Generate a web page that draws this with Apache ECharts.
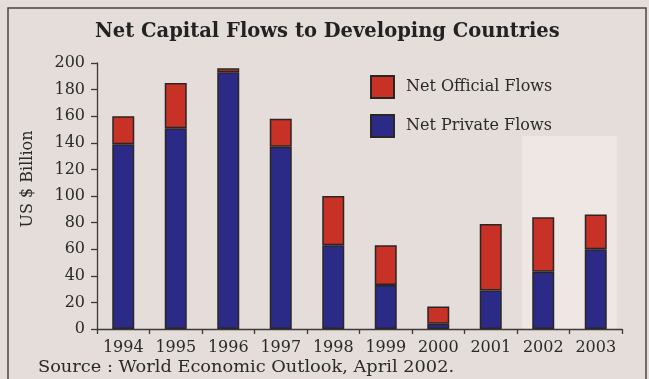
<!DOCTYPE html>
<html>
<head>
<meta charset="utf-8">
<script src="https://cdn.jsdelivr.net/npm/echarts@6/dist/echarts.min.js"></script>
<style>
  html, body { margin: 0; padding: 0; background: #e4ddd9; }
  #chart { width: 649px; height: 379px; }
</style>
</head>
<body>
<div id="chart"></div>
<script>
// Net capital flows to developing countries, US $ billion
const years = ['1994', '1995', '1996', '1997', '1998', '1999', '2000', '2001', '2002', '2003'];
const privateFlows = [139, 151, 193, 137, 63, 33, 4, 29, 43, 60];
const officialFlows = [21, 34, 3, 21, 37, 30, 13, 50, 41, 26];
const yTicks = { min: 0, max: 200, interval: 20 };
// projection years highlighted by a pale panel
const projectionYears = ['2002', '2003'];
const projectionTop = 145;

const FONT = 'DejaVu Serif';
const INK = '#2a2a2a';
const BORDER = '#2b2626';

const chart = echarts.init(document.getElementById('chart'), null, { renderer: 'canvas' });

const option = {
  backgroundColor: '#e4ddd9',
  animation: false,
  textStyle: { fontFamily: FONT, color: INK },
  title: {
    text: 'Net Capital Flows to Developing Countries',
    left: 90,
    top: 17,
    textStyle: { fontFamily: FONT, fontWeight: 'bold', fontSize: 19.5, color: '#222' }
  },
  legend: {
    orient: 'vertical',
    left: 370,
    top: 75,
    padding: 0,
    itemWidth: 23,
    itemHeight: 22,
    itemGap: 15,
    icon: 'rect',
    data: ['Net Official Flows', 'Net Private Flows'],
    textStyle: { fontFamily: FONT, fontSize: 16, color: INK, padding: [0, 0, 0, 7] }
  },
  grid: { left: 97, right: 27, top: 63, bottom: 50, containLabel: false },
  xAxis: {
    type: 'category',
    data: years,
    axisLine: { lineStyle: { color: '#3a3a3a', width: 1.3 } },
    axisTick: { show: true, interval: 0, length: 5, alignWithLabel: false, lineStyle: { color: '#3a3a3a', width: 1.3 } },
    axisLabel: { interval: 0, fontFamily: FONT, fontSize: 16, color: INK, margin: 11 }
  },
  yAxis: {
    type: 'value',
    min: yTicks.min,
    max: yTicks.max,
    interval: yTicks.interval,
    axisLine: { show: true, lineStyle: { color: '#3a3a3a', width: 1.3 } },
    axisTick: { show: true, length: 6, lineStyle: { color: '#3a3a3a', width: 1.3 } },
    splitLine: { show: false },
    axisLabel: { fontFamily: FONT, fontSize: 16, color: INK, margin: 12 }
  },
  series: [
    {
      name: 'Net Private Flows',
      type: 'bar',
      stack: 'flows',
      barWidth: 22,
      data: privateFlows,
      itemStyle: { color: '#2b2a87', borderColor: BORDER, borderWidth: 1.5 }
    },
    {
      name: 'Net Official Flows',
      type: 'bar',
      stack: 'flows',
      barWidth: 22,
      data: officialFlows,
      itemStyle: { color: '#c83126', borderColor: BORDER, borderWidth: 1.5 }
    }
  ],
  graphic: [
    {
      type: 'rect',
      shape: { x: 8, y: 8, width: 638, height: 420 },
      style: { fill: 'none', stroke: '#4a4646', lineWidth: 1.5 },
      z: 100
    },
    {
      type: 'text',
      x: 28,
      y: 179,
      rotation: Math.PI / 2,
      style: {
        text: 'US $ Billion',
        font: '16px "DejaVu Serif"',
        fill: INK,
        textAlign: 'center',
        textVerticalAlign: 'middle'
      }
    },
    {
      type: 'text',
      x: 38,
      y: 360,
      scaleX: 1.11,
      style: {
        text: 'Source : World Economic Outlook, April 2002.',
        font: '16px "DejaVu Serif"',
        fill: INK,
        textAlign: 'left',
        textVerticalAlign: 'top'
      }
    }
  ]
};

chart.setOption(option);

// Pale panel behind the projection years, positioned from the axes
const firstPx = chart.convertToPixel({ xAxisIndex: 0 }, projectionYears[0]);
const lastPx = chart.convertToPixel({ xAxisIndex: 0 }, projectionYears[projectionYears.length - 1]);
const topPx = chart.convertToPixel({ yAxisIndex: 0 }, projectionTop);
const basePx = chart.convertToPixel({ yAxisIndex: 0 }, 0);
const pad = 21;
option.graphic.push({
  type: 'rect',
  shape: { x: firstPx - pad, y: topPx, width: (lastPx - firstPx) + 2 * pad, height: basePx - topPx },
  style: { fill: '#efe7e3' },
  z: -10
});
chart.setOption({ graphic: option.graphic });
</script>
</body>
</html>
